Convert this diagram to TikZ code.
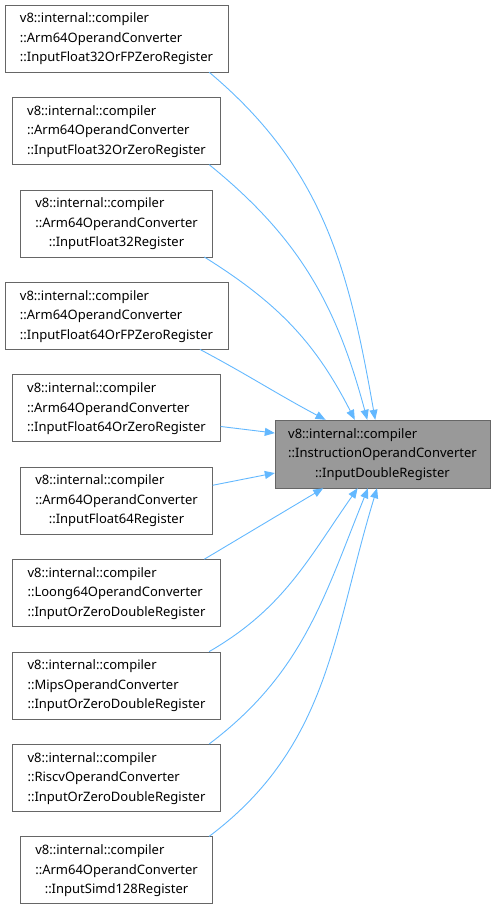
\documentclass[tikz,border=0pt]{standalone}
\usepackage{fontspec}
\setmainfont{Noto Sans}
\usetikzlibrary{positioning,arrows.meta}
\definecolor{EdgeBlue}{HTML}{63B8FF}
\definecolor{BoxLine}{HTML}{666666}
\definecolor{FocusGray}{HTML}{999999}
\newcommand{\lbl}[3]{\begin{tabular}{@{}l@{}}#1\\#2\\\multicolumn{1}{@{}c@{}}{#3}\end{tabular}}

\begin{document}
\begin{tikzpicture}[x=1pt, y=1pt,
    caller/.style={rectangle, draw=BoxLine, fill=white, inner sep=0pt,
                   minimum height=67pt, font={\fontsize{13}{19.5}\selectfont}},
    focus/.style={caller, fill=FocusGray, minimum width=215pt, minimum height=68pt},
    edge/.style={-{Triangle[length=10pt,width=8pt]}, color=EdgeBlue, line width=0.9pt}
]
    \useasboundingbox (0,0) rectangle (495,-906);

    \node[caller, minimum width=223pt] (b1) at (116.5,-38.5)
        {\lbl{v8::internal::compiler}{::Arm64OperandConverter}{::InputFloat32OrFPZeroRegister}};
    \node[caller, minimum width=208pt, below=25pt of b1] (b2)
        {\lbl{v8::internal::compiler}{::Arm64OperandConverter}{::InputFloat32OrZeroRegister}};
    \node[caller, minimum width=192pt, below=25pt of b2] (b3)
        {\lbl{v8::internal::compiler}{::Arm64OperandConverter}{::InputFloat32Register}};
    \node[caller, minimum width=223pt, below=25pt of b3] (b4)
        {\lbl{v8::internal::compiler}{::Arm64OperandConverter}{::InputFloat64OrFPZeroRegister}};
    \node[caller, minimum width=208pt, below=25pt of b4] (b5)
        {\lbl{v8::internal::compiler}{::Arm64OperandConverter}{::InputFloat64OrZeroRegister}};
    \node[caller, minimum width=192pt, below=25pt of b5] (b6)
        {\lbl{v8::internal::compiler}{::Arm64OperandConverter}{::InputFloat64Register}};
    \node[caller, minimum width=208pt, below=25pt of b6] (b7)
        {\lbl{v8::internal::compiler}{::Loong64OperandConverter}{::InputOrZeroDoubleRegister}};
    \node[caller, minimum width=208pt, below=25pt of b7] (b8)
        {\lbl{v8::internal::compiler}{::MipsOperandConverter}{::InputOrZeroDoubleRegister}};
    \node[caller, minimum width=208pt, below=25pt of b8] (b9)
        {\lbl{v8::internal::compiler}{::RiscvOperandConverter}{::InputOrZeroDoubleRegister}};
    \node[caller, minimum width=192pt, below=25pt of b9] (b10)
        {\lbl{v8::internal::compiler}{::Arm64OperandConverter}{::InputSimd128Register}};

    \node[focus] (t) at (382.5,-454)
        {\lbl{v8::internal::compiler}{::InstructionOperandConverter}{::InputDoubleRegister}};

    \draw[edge] (b1.-20) to[out=-40, in=100] (t.102);
    \draw[edge] (b2.-20) to[out=-39, in=105] (t.114);
    \draw[edge] (b3.-21) to[out=-32, in=117] (t.129);
    \draw[edge] (b4.-22) to[out=-28, in=152] (t.149);
    \draw[edge] (b5.-10) -- (t.169);
    \draw[edge] (b6.9) -- (t.-170);
    \draw[edge] (b7.21) -- (t.-150);
    \draw[edge] (b8.20) to[out=30, in=-125] (t.-126);
    \draw[edge] (b9.20) to[out=37, in=-112] (t.-113);
    \draw[edge] (b10.20) to[out=37, in=-107] (t.-99);
\end{tikzpicture}
\end{document}
